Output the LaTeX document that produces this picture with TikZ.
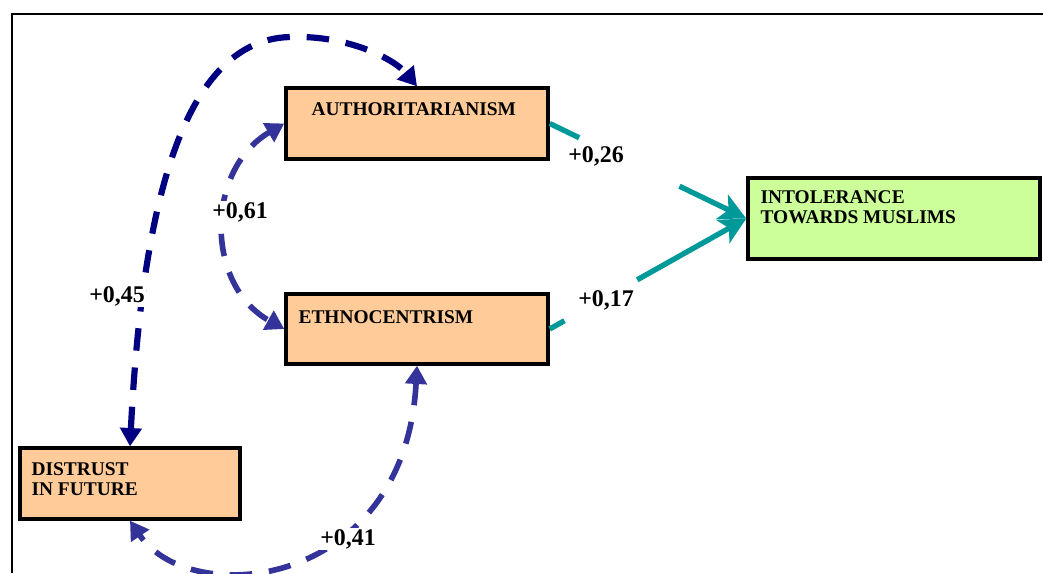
\documentclass[tikz,border=0pt]{standalone}
\usepackage{fontspec}
\setmainfont{Liberation Serif}
\usetikzlibrary{arrows.meta,positioning,calc}
\definecolor{pathnavy}{HTML}{000080}
\definecolor{pathblue}{HTML}{333399}
\definecolor{pathteal}{HTML}{009999}
\definecolor{boxpeach}{HTML}{FFCC99}
\definecolor{boxgreen}{HTML}{CCFF99}

\begin{document}
\begin{tikzpicture}[x=0.025cm, y=-0.025cm,
    factor/.style={draw=black, line width=2.4pt, fill=boxpeach, inner sep=0pt},
    outcome/.style={factor, fill=boxgreen},
    boxtext/.style={font=\bfseries\fontsize{13.8}{14.2}\selectfont, inner sep=0pt, align=left},
    coef/.style={font=\bfseries\fontsize{17}{20}\selectfont, fill=white, inner sep=1pt},
    corr/.style={line width=4pt, dash pattern=on 16pt off 12pt, <->,
        >={Triangle[length=13pt, width=15pt]}},
    effect/.style={line width=3.8pt, pathteal, ->, >={Stealth[length=19pt, width=19pt, inset=5pt]}}]
    \useasboundingbox (0,0) rectangle (1043,573);

    % frame
    \draw[line width=2pt] (12,573) -- (12,14) -- (1043,14);

    % boxes
    \node[factor, minimum width=6.55cm, minimum height=1.775cm] (auth) at (417,123.5) {};
    \node[factor, minimum width=6.55cm, minimum height=1.75cm] (ethno) at (417,329) {};
    \node[factor, minimum width=5.5cm, minimum height=1.775cm] (dist) at (130,483.5) {};
    \node[outcome, minimum width=7.3cm, minimum height=2.025cm] (intol) at (894,218.5) {};

    \node[boxtext, below right=0.41cm and 0.675cm of auth.north west] (authtxt) {AUTHORITARIANISM};
    \node[boxtext, below right=0.44cm and 0.35cm of ethno.north west] (ethnotxt) {ETHNOCENTRISM};
    \node[boxtext, below right=0.39cm and 0.325cm of dist.north west] (disttxt) {DISTRUST\\IN FUTURE};
    \node[boxtext, below right=0.36cm and 0.35cm of intol.north west] (intoltxt) {INTOLERANCE\\TOWARDS MUSLIMS};

    % effects on intolerance
    \draw[effect, -] (auth.east) -- ($(auth.east)!0.15!(intol.west)$);
    \draw[effect] ($(auth.east)!0.66!(intol.west)$) -- (intol.west);
    \draw[effect, -] (ethno.east) -- ($(ethno.east)!0.075!(intol.west)$);
    \draw[effect] ($(ethno.east)!0.445!(intol.west)$) -- (intol.west);

    % correlations
    \draw[corr, pathnavy, line width=4.4pt] (dist.north) .. controls (140,250) and (170,40) .. (290,37)
        .. controls (350,35) and (395,60) .. (auth.north);
    \draw[corr, pathblue] (auth.west) .. controls (205,170) and (205,285) .. (ethno.west);
    \draw[corr, pathblue] (ethno.south) .. controls (405,590) and (190,610) .. (dist.south);

    % coefficients
    \node[coef] (c26) at (596,156) {+0,26};
    \node[coef] (c17) at (606,300) {+0,17};
    \node[coef] (c61) at (240,212) {+0,61};
    \node[coef] (c45) at (117,296) {+0,45};
    \node[coef] (c41) at (348,539) {+0,41};
\end{tikzpicture}
\end{document}
